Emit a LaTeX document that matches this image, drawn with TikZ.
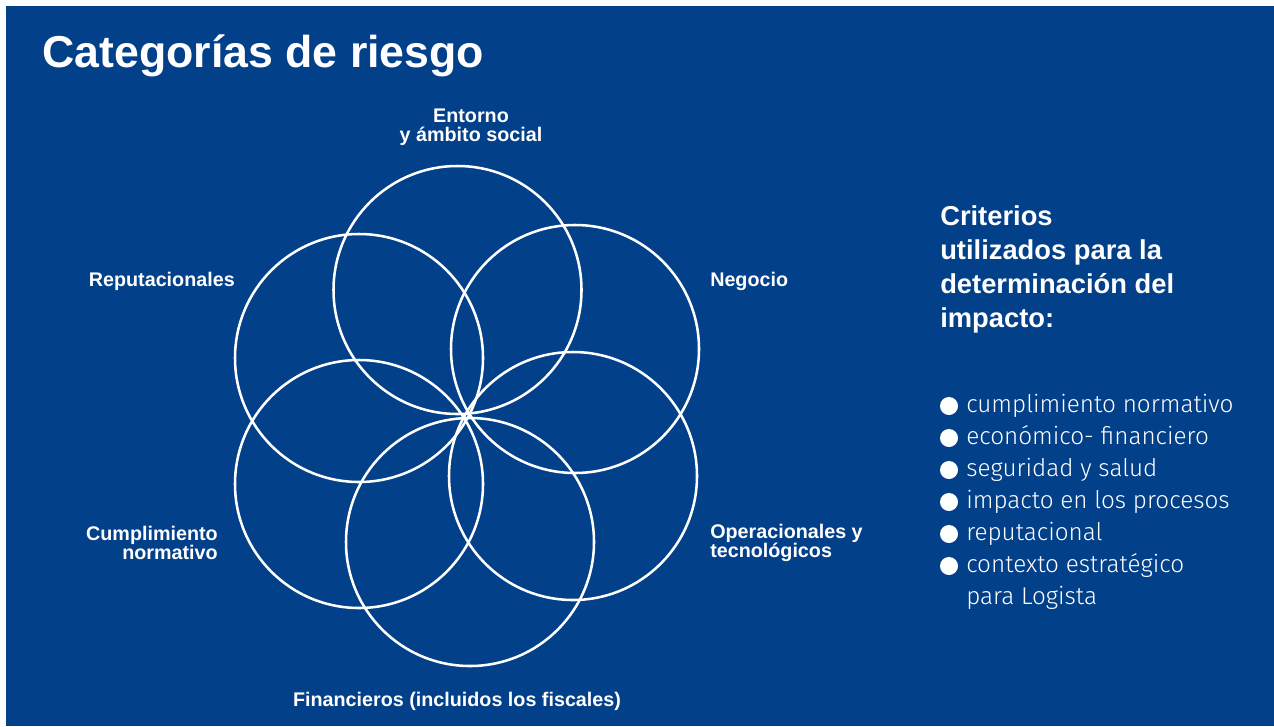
\documentclass[tikz,border=0pt]{standalone}
\usepackage{fontspec}
\setmainfont{Liberation Sans}
\newfontfamily\lightfont{Fira Sans Light}
\usetikzlibrary{positioning}
\definecolor{riskblue}{HTML}{024089}

\begin{document}
\begin{tikzpicture}[x=0.75pt,y=-0.75pt,
  cat/.style={font=\bfseries\fontsize{14.8}{14.3}\selectfont,text=white,inner sep=0pt},
  petal/.style={circle,draw=white,line width=1.9pt,minimum size=186pt,inner sep=0pt},
  dot/.style={circle,fill=white,minimum size=13.5pt,inner sep=0pt},
  crit/.style={font=\lightfont\fontsize{18.2}{24}\selectfont,text=white,inner sep=0pt,anchor=base west}]
\useasboundingbox (0,0) rectangle (1274,726);
\fill[white] (0,0) rectangle (1274,726);
\fill[riskblue] (6,6) rectangle (1274,726);
\node[anchor=base west,inner sep=0pt,text=white,font=\bfseries\fontsize{33.5}{40}\selectfont] (title) at (42,67) {Categorías de riesgo};
% six circles round the middle
\foreach \x/\y [count=\i] in {457.5/290,575/349,573/476,470/542,359/484,359/358}
  \node[petal] (p\i) at (\x,\y) {};
\node[cat,align=center] (ent) at (471,127) {Entorno\\y ámbito social};
\node[cat,anchor=east] (rep) at (235,281) {Reputacionales};
\node[cat,anchor=west] (neg) at (710,281) {Negocio};
\node[cat,align=right,anchor=east] (cum) at (218,543) {Cumplimiento\\normativo};
\node[cat,align=left,anchor=west] (ope) at (710,543) {Operacionales y\\tecnológicos};
\node[cat] (fin) at (457,701) {Financieros (incluidos los fiscales)};
% criterios
\node[anchor=north west,align=left,inner sep=0pt,text=white,font=\bfseries\fontsize{20.5}{25.5}\selectfont] (head) at (940,205) {Criterios\\utilizados para la\\determinación del\\impacto:};
\foreach \t [count=\i] in {cumplimiento normativo,económico- financiero,seguridad y salud,impacto en los procesos,reputacional,contexto estratégico}
  {\node[dot] (b\i) at (949,{374+32*\i}) {};
   \node[crit] (t\i) at (966,{380+32*\i}) {\t};}
\node[crit] (t7) at (966,604) {para Logista};
\end{tikzpicture}
\end{document}
